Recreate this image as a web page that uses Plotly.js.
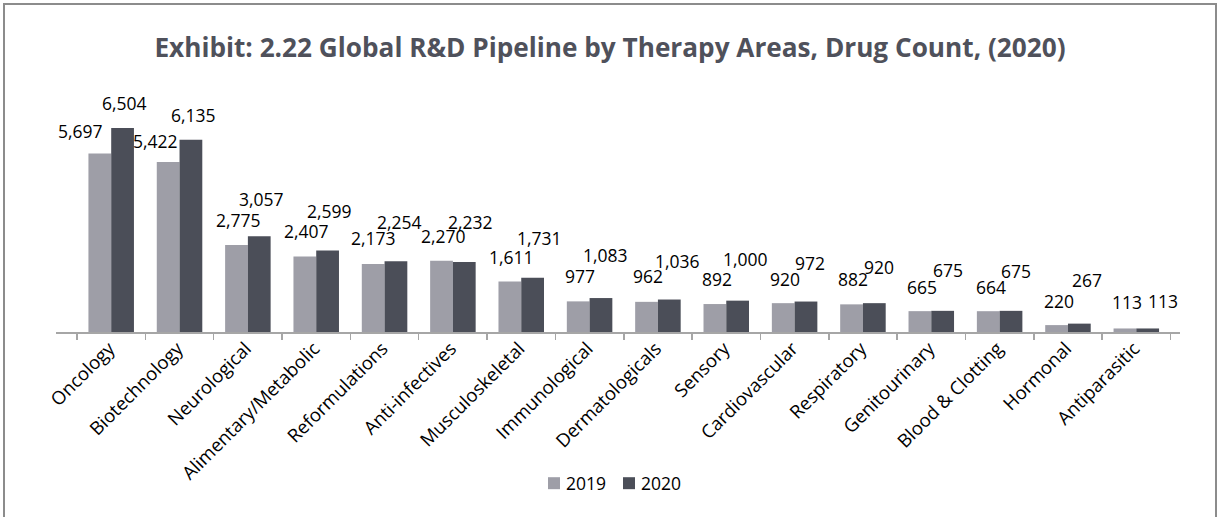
<!DOCTYPE html>
<html>
<head>
<meta charset="utf-8">
<script src="https://cdn.plot.ly/plotly-3.0.1.min.js"></script>
<style>
  html, body { margin: 0; padding: 0; background: #fff; }
  #wrap { position: relative; width: 1220px; height: 517px; overflow: hidden; }
  #chart { width: 1220px; height: 517px; }
  #frame { position: absolute; left: 3px; top: 3px; width: 1214px; height: 540px;
           border: 2px solid #8c8c8c; pointer-events: none; box-sizing: border-box; }
</style>
</head>
<body>
<div id="wrap">
  <div id="chart"></div>
  <div id="frame"></div>
</div>
<script>
// ---- data ----
const categories = ["Oncology", "Biotechnology", "Neurological", "Alimentary/Metabolic",
  "Reformulations", "Anti-infectives", "Musculoskeletal", "Immunological",
  "Dermatologicals", "Sensory", "Cardiovascular", "Respiratory",
  "Genitourinary", "Blood & Clotting", "Hormonal", "Antiparasitic"];
const values2019 = [5697, 5422, 2775, 2407, 2173, 2270, 1611, 977, 962, 892, 920, 882, 665, 664, 220, 113];
const values2020 = [6504, 6135, 3057, 2599, 2254, 2232, 1731, 1083, 1036, 1000, 972, 920, 675, 675, 267, 113];
const seriesNames = ["2019", "2020"];

// ---- label placement tweaks (pixel offsets from bar top centre) ----
const labelDx2019 = [-19, -12, 2, 2, 1, 2, 2, 2, 2, 2, 2.5, 2, 2, 3, 2.5, 2.5];
const labelDy2019 = [21, 20, 24, 24.5, 24.5, 23.5, 24, 24, 24.5, 24, 23.5, 24, 23.5, 23.5, 23, 25];
const labelDx2020 = [2, 2, 2.3, 1.5, 3.3, 6, 7, 4.5, 7.7, 7.3, 4, 4.6, 4.7, 4.8, 7, 15];
const labelDy2020 = [24.5, 24, 35.7, 38.3, 38.7, 39.4, 38.7, 42.3, 37.6, 40.3, 37.7, 35.3, 40.3, 39, 42.3, 26.7];

const colors = ["#9e9ea7", "#4b4e58"];
const W = 1220, H = 517;
const margin = {l: 56, r: 40, t: 90, b: 184.5};
const bargap = 0.334;
const fontFam = "'Open Sans', Lato, sans-serif";
const plotW = W - margin.l - margin.r;
const plotH = H - margin.t - margin.b;
const px2paperX = px => (px - margin.l) / plotW;
const px2paperY = py => (H - margin.b - py) / plotH;

const fmt = v => v.toLocaleString("en-US");

const traces = [values2019, values2020].map((vals, i) => ({
  type: "bar",
  name: seriesNames[i],
  x: categories,
  y: vals,
  marker: {color: colors[i], line: {width: 0}},
  hoverinfo: "x+y",
  showlegend: false
}));

// bar offset within group, derived from the axis length
const catWidth = plotW / categories.length;
const barOffset = catWidth * (1 - bargap) / 4;

const annotations = [];
categories.forEach((c, k) => {
  annotations.push({
    x: c, y: values2019[k], xref: "x", yref: "y",
    text: fmt(values2019[k]), showarrow: false,
    xanchor: "center", yanchor: "middle",
    xshift: -barOffset + labelDx2019[k], yshift: labelDy2019[k] + 1,
    font: {family: fontFam, size: 17.5, color: "#000"}
  });
  annotations.push({
    x: c, y: values2020[k], xref: "x", yref: "y",
    text: fmt(values2020[k]), showarrow: false,
    xanchor: "center", yanchor: "middle",
    xshift: barOffset + labelDx2020[k], yshift: labelDy2020[k] + 1,
    font: {family: fontFam, size: 17.5, color: "#000"}
  });
});

// ---- custom legend (square + text) ----
const legendSquares = [548, 623];   // left edge of each square, px
const legendY = 484;                // centre line of the legend, px
const shapes = [];
seriesNames.forEach((name, i) => {
  const x0 = legendSquares[i];
  shapes.push({
    type: "rect", xref: "paper", yref: "paper", layer: "above",
    x0: px2paperX(x0), x1: px2paperX(x0 + 12),
    y0: px2paperY(legendY + 6), y1: px2paperY(legendY - 6),
    fillcolor: colors[i], line: {width: 0}
  });
  annotations.push({
    xref: "paper", yref: "paper",
    x: px2paperX(x0 + 16), y: px2paperY(legendY),
    xanchor: "left", yanchor: "middle",
    text: name, showarrow: false,
    font: {family: fontFam, size: 17.5, color: "#000"}
  });
});

const layout = {
  width: W, height: H,
  margin: margin,
  paper_bgcolor: "#fff", plot_bgcolor: "#fff",
  font: {family: fontFam, color: "#000"},
  title: {
    text: "<b>Exhibit: 2.22 Global R&D Pipeline by Therapy Areas, Drug Count, (2020)</b>",
    x: 0.5, xref: "container", xanchor: "center",
    y: 1 - 48 / H, yref: "container", yanchor: "middle",
    font: {family: fontFam, size: 26.2, color: "#4f515b"}
  },
  barmode: "group",
  bargap: bargap,
  bargroupgap: 0,
  xaxis: {
    type: "category",
    showline: true, linecolor: "#a6a6a6", linewidth: 1.5,
    ticks: "outside", tickson: "boundaries", ticklen: 6, tickcolor: "#a6a6a6", tickwidth: 1.5,
    tickangle: -45,
    ticklabelshift: -2,
    ticklabelstandoff: -3,
    tickfont: {family: fontFam, size: 18.5, color: "#000"},
    showgrid: false, zeroline: false, fixedrange: true
  },
  yaxis: {
    range: [0, 7720], visible: false, showgrid: false, zeroline: false, fixedrange: true
  },
  showlegend: false,
  shapes: shapes,
  annotations: annotations
};

Plotly.newPlot("chart", traces, layout, {displayModeBar: false, staticPlot: true});
</script>
</body>
</html>
